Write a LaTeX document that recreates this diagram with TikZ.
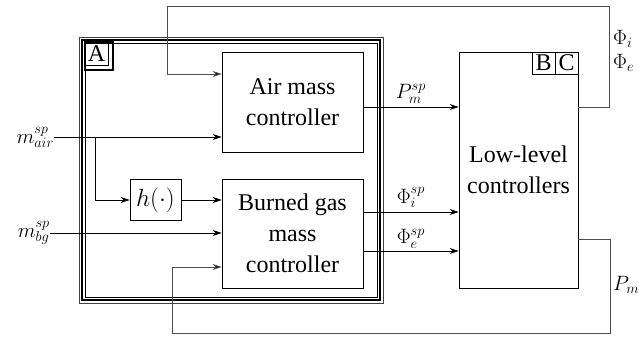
\documentclass[tikz,border=0pt]{standalone}
\usepackage{fontspec}
\setmainfont{Liberation Serif}
\usetikzlibrary{arrows.meta}
\begin{document}
\begin{tikzpicture}[x=1pt,y=-1pt,
  every node/.style={font=\fontsize{24}{31}\selectfont},
  blk/.style={draw, line width=0.7pt, inner sep=0pt, align=center},
  lbl/.style={inner sep=0pt, font=\fontsize{22}{26}\selectfont},
  arr/.style={line width=0.7pt, -{Stealth[length=9pt,width=6pt]}},
  fb/.style={line width=0.8pt, draw=black!70},
  fbarr/.style={fb, -{Stealth[length=9pt,width=6pt,fill=black]}},
  frm/.style={line width=0.9pt}]
\useasboundingbox (0,0) rectangle (639,337);
% frame A
\draw[frm, draw=black!75] (79,37) rectangle (383,303);
\draw[frm, line width=1.2pt] (82,40) rectangle (380,300);
\draw[frm] (85,43) rectangle (377,297);
\draw[line width=1.1pt] (85,42) rectangle (113,70);
\draw[line width=0.7pt] (85,42) rectangle (108,65);
\node[inner sep=0pt] (A) at (96.5,53.5) {A};
% blocks
\node[blk, minimum width=141pt, minimum height=100pt, fill=white] (air) at (292.5,102) {Air mass\\controller};
\node[blk, minimum width=141pt, minimum height=109pt, fill=white] (bg) at (292.5,233.5) {Burned gas\\mass\\controller};
\node[blk, minimum width=119pt, minimum height=236pt] (ll) at (518.5,170) {Low-level\\controllers};
\node[blk, minimum width=51pt, minimum height=41pt] (h) at (155.5,200) {$h(\cdot)$};
\node[blk, minimum width=23pt, minimum height=22pt] (B) at (543.5,63) {B};
\node[blk, minimum width=23pt, minimum height=22pt] (C) at (566.5,63) {C};
% inputs
\node[lbl, anchor=east] (mair) at (54,137) {$m_{air}^{sp}$};
\node[lbl, anchor=east] (mbg) at (50,233) {$m_{bg}^{sp}$};
\coordinate (br) at (95,137);
\coordinate (br2) at (95,200);
\draw[arr] (mair.east) -- (air.west |- mair.east);
\draw[arr] (br) -- (br2) -- (h.west);
\draw[arr] (h.east) -- (h.east -| bg.west);
\draw[arr] (mbg.east) -- (mbg.east -| bg.west);
% outputs to low level
\coordinate (pmo) at (363,107);
\coordinate (pio) at (363,212);
\coordinate (peo) at (363,251);
\draw[arr] (pmo) -- (pmo -| ll.west) node[midway, above=3pt, lbl] (lpm) {$P_m^{sp}$};
\draw[arr] (pio) -- (pio -| ll.west) node[midway, above=4pt, lbl] (lpi) {$\Phi_i^{sp}$};
\draw[arr] (peo) -- (peo -| ll.west) node[midway, above=2pt, lbl] (lpe) {$\Phi_e^{sp}$};
% feedback loops
\coordinate (o1) at (ll.east |- 0,107);
\coordinate (t1) at (609,107);
\coordinate (t2) at (609,6);
\coordinate (t3) at (167,6);
\coordinate (t4) at (167,74);
\draw[fbarr] (o1) -- (t1) -- (t2) -- (t3) -- (t4) -- (t4 -| air.west);
\coordinate (o2) at (ll.east |- 0,239);
\coordinate (b1) at (610,239);
\coordinate (b2) at (610,333);
\coordinate (b3) at (172,333);
\coordinate (b4) at (172,267);
\draw[fbarr] (o2) -- (b1) -- (b2) -- (b3) -- (b4) -- (b4 -| bg.west);
\node[lbl, anchor=west] (phii) at (613,39) {$\Phi_i$};
\node[lbl, anchor=west] (phie) at (613,63) {$\Phi_e$};
\node[lbl, anchor=west] (pm) at (613,285) {$P_m$};
\end{tikzpicture}
\end{document}
